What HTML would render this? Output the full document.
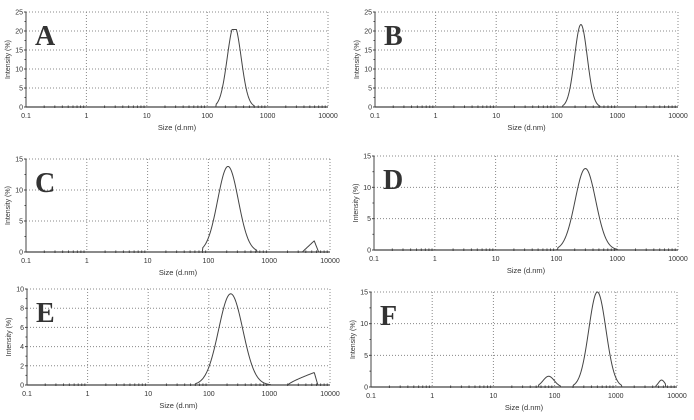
<!DOCTYPE html>
<html><head><meta charset="utf-8"><style>
html,body{margin:0;padding:0;background:#fff;width:694px;height:420px;overflow:hidden}
svg{display:block}
text{font-family:"Liberation Sans",sans-serif;fill:#333}
</style></head><body>
<svg id="s" width="694" height="420" xmlns="http://www.w3.org/2000/svg"></svg>
<script>
const S=document.getElementById('s');let h='';
function g(x,m,s,a){const d=(Math.log10(x)-Math.log10(m))/s;return a*Math.exp(-d*d/2);}
const panels=[
{L:'A',l:26,r:328,t:12,b:107,ymax:25,step:5,f:x=>{let v=g(x,280,0.115,21.5);v=Math.min(v,20.4);return (x<140||x>600)?0:v;}},
{L:'B',l:375,r:678,t:12,b:107,ymax:25,step:5,f:x=>{let v=g(x,250,0.105,21.7);return (x<125||x>520)?0:v;}},
{L:'C',l:26,r:330,t:159,b:252,ymax:15,step:5,f:x=>{let v=(x<80||x>620)?0:g(x,210,0.17,13.8);
 if(x>=3500&&x<=5500)v+=1.8*(Math.log10(x)-Math.log10(3500))/(Math.log10(5500)-Math.log10(3500));
 if(x>5500&&x<=6500)v+=1.8*(Math.log10(6500)-Math.log10(x))/(Math.log10(6500)-Math.log10(5500));return v;}},
{L:'D',l:374,r:678,t:156,b:250,ymax:15,step:5,f:x=>{return (x<105||x>1000)?0:g(x,300,0.17,13);}},
{L:'E',l:27,r:330,t:289,b:385,ymax:10,step:2,f:x=>{let v=(x<60||x>1050)?0:g(x,230,0.2,9.5);
 if(x>=2000&&x<=5500)v+=1.3*Math.pow((Math.log10(x)-Math.log10(2000))/(Math.log10(5500)-Math.log10(2000)),0.8);
 if(x>5500&&x<=6300)v+=1.3*(Math.log10(6300)-Math.log10(x))/(Math.log10(6300)-Math.log10(5500));return v;}},
{L:'F',l:371,r:677,t:292,b:387,ymax:15,step:5,f:x=>{let v=0;if(x>=55&&x<=125)v+=g(x,80,0.09,1.7);
 if(x>=200&&x<=1250)v+=g(x,500,0.14,15);
 if(x>=4500&&x<=6500)v+=g(x,5600,0.05,1.1);return v;}}
];
for(const p of panels){
 const X=v=>p.l+(Math.log10(v)+1)/5*(p.r-p.l);
 const Y=v=>p.b-v/p.ymax*(p.b-p.t);
 for(let k=0;k<=5;k++){const x=p.l+k*(p.r-p.l)/5;
  h+=`<line x1="${x}" y1="${p.t}" x2="${x}" y2="${p.b}" stroke="#888" stroke-width="1" stroke-dasharray="1,2"/>`;
  const lab=['0.1','1','10','100','1000','10000'][k];
  h+=`<text x="${x}" y="${p.b+11}" font-size="7" text-anchor="middle">${lab}</text>`;}
 for(let v=0;v<=p.ymax;v+=p.step){const y=Y(v);
  if(v>0)h+=`<line x1="${p.l}" y1="${y}" x2="${p.r}" y2="${y}" stroke="#888" stroke-width="1" stroke-dasharray="1,2"/>`;
  h+=`<text x="${p.l-3}" y="${y+2.5}" font-size="7" text-anchor="end">${v}</text>`;
  h+=`<line x1="${p.l-2}" y1="${y}" x2="${p.l}" y2="${y}" stroke="#444"/>`;
  if(v<p.ymax){const ym=Y(v+p.step/2);h+=`<line x1="${p.l-1.5}" y1="${ym}" x2="${p.l}" y2="${ym}" stroke="#444"/>`;}}
 h+=`<line x1="${p.l}" y1="${p.t}" x2="${p.l}" y2="${p.b}" stroke="#444"/>`;
 h+=`<line x1="${p.l}" y1="${p.b}" x2="${p.r}" y2="${p.b}" stroke="#444" stroke-width="1.3"/>`;
 for(let d=-1;d<4;d++)for(let m=2;m<=9;m++){const x=X(m*Math.pow(10,d));h+=`<line x1="${x}" y1="${p.b-1.5}" x2="${x}" y2="${p.b+1}" stroke="#444"/>`;}
 h+=`<text x="${(p.l+p.r)/2}" y="${p.b+23}" font-size="7.5" text-anchor="middle">Size (d.nm)</text>`;
 const cy=(p.t+p.b)/2;
 h+=`<text transform="translate(${p.l-16},${cy}) rotate(-90)" font-size="7" text-anchor="middle">Intensity (%)</text>`;
 h+=`<text x="${p.l+9}" y="${p.t+33}" font-size="28" font-weight="bold" style="font-family:'Liberation Serif',serif" fill="#000">${p.L}</text>`;
 let pts=[];for(let i=0;i<=600;i++){const lx=-1+5*i/600;const x=Math.pow(10,lx);pts.push(X(x).toFixed(2)+','+Y(p.f(x)).toFixed(2));}
 h+=`<polyline points="${pts.join(' ')}" fill="none" stroke="#444" stroke-width="1"/>`;
}
S.innerHTML=h;
</script>
</body></html>
